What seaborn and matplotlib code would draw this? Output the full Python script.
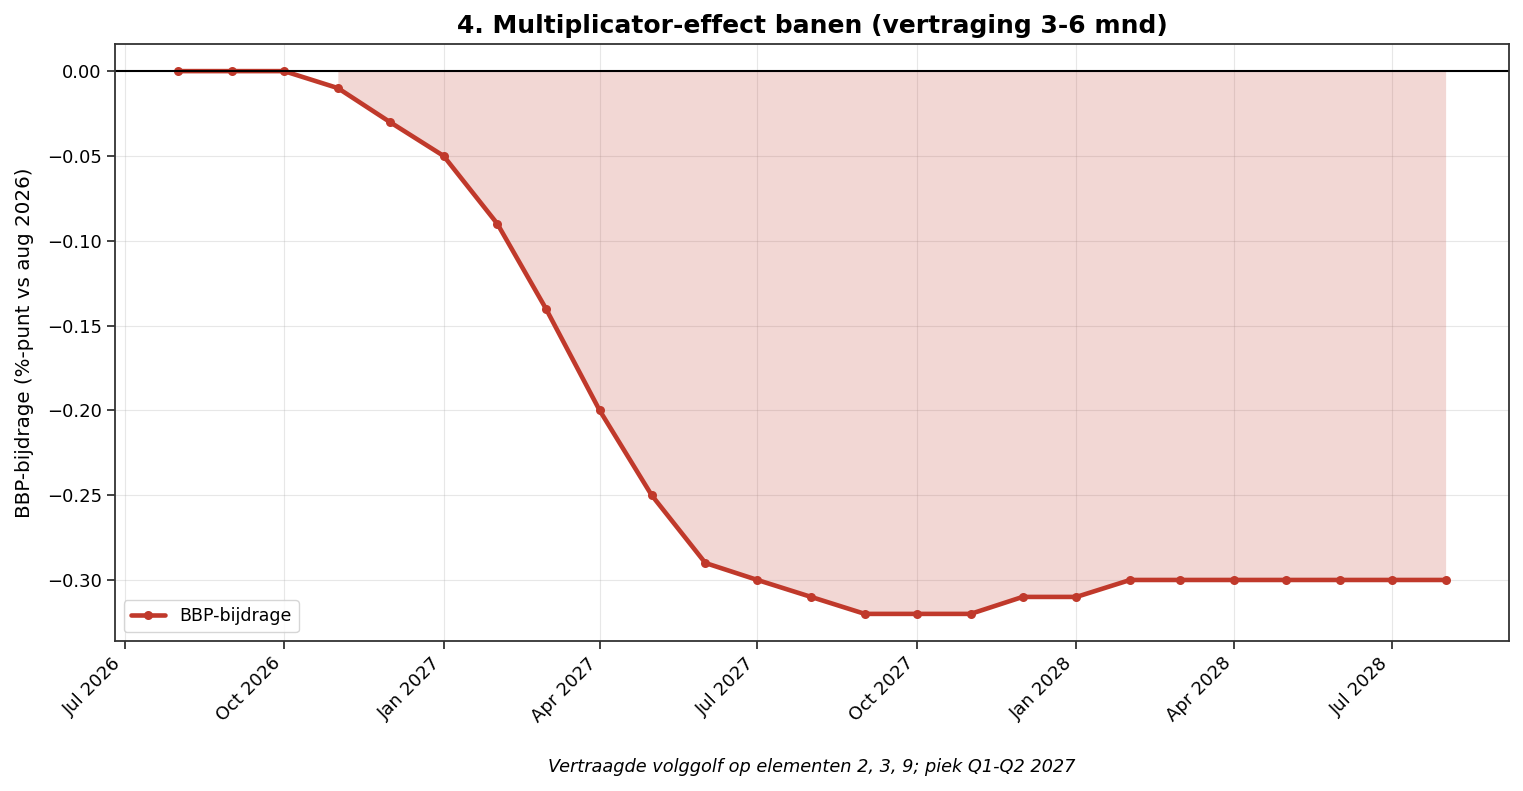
import pandas as pd
import numpy as np
import matplotlib
matplotlib.use('Agg')
import matplotlib.pyplot as plt
import matplotlib.dates as mdates
import seaborn as sns

# monthly series, Aug 2026 - Aug 2028
months = pd.date_range('2026-08-01', '2028-08-01', freq='MS')
bbp = [0.00, 0.00, 0.00, -0.01, -0.03, -0.05, -0.09, -0.14, -0.20, -0.25,
       -0.29, -0.30, -0.31, -0.32, -0.32, -0.32, -0.31, -0.31, -0.30, -0.30,
       -0.30, -0.30, -0.30, -0.30, -0.30]

df = pd.DataFrame({'datum': months, 'bbp': bbp})
kleur = '#c0392b'

sns.set_style('white')
plt.rcParams['font.family'] = ['DejaVu Sans']
plt.rcParams['text.color'] = 'black'
plt.rcParams['axes.labelcolor'] = 'black'

fig, ax = plt.subplots(figsize=(15.23, 7.91), dpi=100)
fig.subplots_adjust(left=0.0755, right=0.9908, top=0.9444, bottom=0.1896)

ax.fill_between(df['datum'], df['bbp'], 0, where=df['bbp'] < 0,
                color=kleur, alpha=0.2, linewidth=0)
sns.lineplot(data=df, x='datum', y='bbp', ax=ax, color=kleur, linewidth=3.3,
             marker='o', markersize=6.5, markeredgewidth=0, label='BBP-bijdrage')
ax.axhline(0, color='black', linewidth=1.5)

ax.set_title('4. Multiplicator-effect banen (vertraging 3-6 mnd)',
             fontsize=18, fontweight='bold', color='black', pad=8)
ax.set_xlabel('')
ax.set_ylabel('BBP-bijdrage (%-punt vs aug 2026)', fontsize=14.3, labelpad=9)
ax.xaxis.set_major_locator(mdates.MonthLocator(bymonth=[1, 4, 7, 10]))
ax.xaxis.set_major_formatter(mdates.DateFormatter('%b %Y'))
plt.setp(ax.get_xticklabels(), rotation=45, ha='right')
ax.tick_params(axis='both', labelsize=13, length=6, width=1.3, colors='#333333',
               labelcolor='black', bottom=True, left=True)
ax.yaxis.set_major_formatter(matplotlib.ticker.FuncFormatter(
    lambda v, p: f'{v:.2f}'.replace('-', '\u2212')))
ax.grid(True, color='#b0b0b0', alpha=0.3)
for s in ax.spines.values():
    s.set_color('#333333')
    s.set_linewidth(1.3)

ax.legend(loc='lower left', fontsize=12.5)

fig.text(0.533, 0.0303, 'Vertraagde volggolf op elementen 2, 3, 9; piek Q1-Q2 2027',
         ha='center', va='center', style='italic', fontsize=12.8)

plt.savefig('out.png', dpi=100)
